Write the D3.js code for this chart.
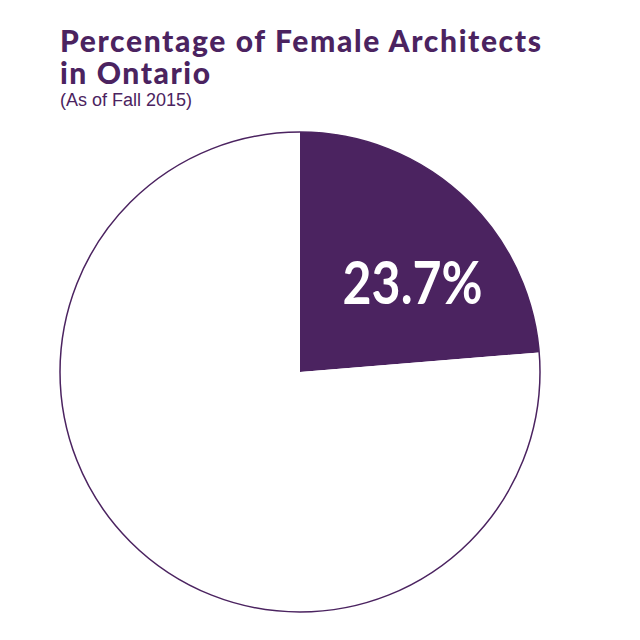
<!DOCTYPE html>
<html>
<head>
<meta charset="utf-8">
<script src="https://cdn.jsdelivr.net/npm/d3@7"></script>
<style>
  body { margin: 0; background: #fff; }
</style>
</head>
<body>
<svg id="chart" width="640" height="640"></svg>
<script>
// values
var categories = ['Female', 'Male'];
var shares = [23.7, 76.3];
var labels = ['23.7%', ''];

var purple = '#4b2360';
var svg = d3.select('#chart');

// titles
svg.append('text')
    .attr('x', 60).attr('y', 52)
    .attr('font-family', 'Lato')
    .attr('font-weight', 900)
    .attr('font-size', 30)
    .attr('textLength', 481)
    .attr('lengthAdjust', 'spacing')
    .style('fill', purple)
    .text('Percentage of Female Architects');

svg.append('text')
    .attr('x', 60).attr('y', 84)
    .attr('font-family', 'Lato')
    .attr('font-weight', 900)
    .attr('font-size', 30)
    .attr('textLength', 150)
    .attr('lengthAdjust', 'spacing')
    .style('fill', purple)
    .text('in Ontario');

svg.append('text')
    .attr('x', 60).attr('y', 106)
    .attr('font-family', 'Liberation Sans')
    .attr('font-size', 18)
    .style('fill', purple)
    .text('(As of Fall 2015)');

var radius = 240;
var g = svg.append('g').attr('transform', 'translate(300, 372)');

var pie = d3.pie().sort(null).value(function(d) { return d; });
var arc = d3.arc().innerRadius(0).outerRadius(radius);
var labelArc = d3.arc().innerRadius(radius * 0.6).outerRadius(radius * 0.6);

var slices = pie(shares);

g.selectAll('path.slice')
    .data(slices)
    .enter().append('path')
    .attr('class', 'slice')
    .attr('d', arc)
    .style('fill', function(d, i) { return i === 0 ? purple : '#fff'; })
    .style('stroke', 'none');

// outline of the whole pie
g.append('path')
    .attr('d', d3.arc().innerRadius(0).outerRadius(radius)({startAngle: 0, endAngle: 2 * Math.PI}))
    .style('fill', 'none')
    .style('stroke', purple)
    .style('stroke-width', 1.5);

g.selectAll('text.label')
    .data(slices)
    .enter().append('text')
    .attr('class', 'label')
    .attr('transform', function(d) { return 'translate(' + labelArc.centroid(d) + ')'; })
    .attr('dx', 15)
    .attr('dy', 38)
    .attr('text-anchor', 'middle')
    .attr('font-family', 'Lato')
    .attr('font-weight', 700)
    .attr('font-size', 60)
    .attr('textLength', function(d, i) { return labels[i] ? 140 : null; })
    .attr('lengthAdjust', 'spacingAndGlyphs')
    .style('fill', '#fff')
    .text(function(d, i) { return labels[i]; });
</script>
</body>
</html>
